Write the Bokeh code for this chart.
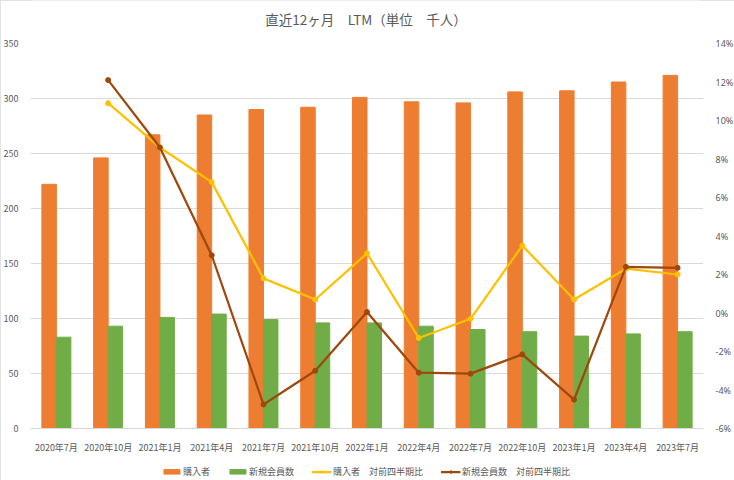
from bokeh.plotting import figure
from bokeh.layouts import column
from bokeh.models import (Range1d, LinearAxis, FixedTicker, PrintfTickFormatter,
                          Legend, LegendItem, FactorRange, Label)
from bokeh.transform import dodge
from bokeh.embed import file_html
from bokeh.resources import INLINE

categories = ["2020年7月", "2020年10月", "2021年1月", "2021年4月", "2021年7月", "2021年10月",
              "2022年1月", "2022年4月", "2022年7月", "2022年10月", "2023年1月", "2023年4月", "2023年7月"]
buyers = [222, 246, 267, 285, 290, 292, 301, 297, 296, 306, 307, 315, 321]
new_members = [83, 93, 101, 104, 99, 96, 96, 93, 90, 88, 84, 86, 88]
# quarter-on-quarter change in %, first quarter has no value
line_cats = categories[1:]
buyers_qoq = [10.9, 8.6, 6.8, 1.8, 0.7, 3.1, -1.3, -0.3, 3.5, 0.7, 2.3, 2.0]
members_qoq = [12.1, 8.6, 3.0, -4.75, -3.0, 0.05, -3.1, -3.15, -2.15, -4.5, 2.4, 2.35]

left_ticks = [0, 50, 100, 150, 200, 250, 300, 350]
right_ticks = [-6, -4, -2, 0, 2, 4, 6, 8, 10, 12, 14]
title_text = "直近12ヶ月　LTM（単位　千人）"
legend_labels = ["購入者", "新規会員数", "購入者　対前四半期比", "新規会員数　対前四半期比"]

FONT = "Noto Sans CJK JP"
GRAY = "#595959"
ORANGE = "#ED7D31"
GREEN = "#70AD47"
YELLOW = "#FFC000"
BROWN = "#9E480E"
W = 734
TH = 35


def bare(height, x_range, y_range):
    f = figure(width=W, height=height, x_range=x_range, y_range=y_range,
               output_backend="svg", toolbar_location=None,
               x_axis_location=None, y_axis_location=None,
               min_border_left=0, min_border_right=0, min_border_top=0, min_border_bottom=0)
    f.grid.grid_line_color = None
    f.outline_line_color = None
    return f


# ---- title strip ----
tf = bare(TH, Range1d(0, W), Range1d(0, TH))
tf.add_layout(Label(x=W / 2, y=TH - 18, text=title_text,
                    text_font=FONT, text_font_size="13.5px", text_color=GRAY,
                    text_align="center", text_baseline="middle"))

# ---- main chart ----
p = figure(frame_width=673, frame_height=385, x_range=FactorRange(*categories), y_range=Range1d(0, 350),
           output_backend="svg", toolbar_location=None,
           min_border_left=28, min_border_right=33, min_border_top=8, min_border_bottom=22)
p.extra_y_ranges = {"pct": Range1d(-6, 14)}

p.vbar(x=dodge("x", -0.14, range=p.x_range), top="y", width=0.28, color=ORANGE,
       source=dict(x=categories, y=buyers))
p.vbar(x=dodge("x", 0.14, range=p.x_range), top="y", width=0.28, color=GREEN,
       source=dict(x=categories, y=new_members))

p.line(line_cats, buyers_qoq, y_range_name="pct", color=YELLOW, line_width=2.25)
p.scatter(line_cats, buyers_qoq, y_range_name="pct", color=YELLOW, size=5)
p.line(line_cats, members_qoq, y_range_name="pct", color=BROWN, line_width=2.25)
p.scatter(line_cats, members_qoq, y_range_name="pct", color=BROWN, size=5)

p.yaxis.ticker = FixedTicker(ticks=left_ticks)
for ax in [p.xaxis[0], p.yaxis[0]]:
    ax.major_label_text_font = FONT
    ax.major_label_text_font_size = "9px"
    ax.major_label_text_color = GRAY
    ax.major_tick_line_color = None
    ax.minor_tick_line_color = None
p.yaxis.axis_line_color = None
p.yaxis.major_label_standoff = 6
p.xaxis.axis_line_color = "#d9d9d9"
p.xaxis.major_label_standoff = 6

ra = LinearAxis(y_range_name="pct", ticker=FixedTicker(ticks=right_ticks),
                formatter=PrintfTickFormatter(format="%d%%"))
ra.major_label_text_font = "Noto Sans"
ra.major_label_text_font_size = "9px"
ra.major_label_text_color = GRAY
ra.major_tick_line_color = None
ra.minor_tick_line_color = None
ra.axis_line_color = None
ra.major_label_standoff = 6
p.add_layout(ra, "right")

p.xgrid.grid_line_color = None
p.ygrid.grid_line_color = "#d9d9d9"
p.ygrid.ticker = FixedTicker(ticks=left_ticks)
p.outline_line_color = None

# ---- legend strip (same series, drawn outside the view so only the legend shows) ----
lg = bare(30, FactorRange(*categories), Range1d(1000, 1001))
r1 = lg.vbar(x="x", top="y", width=0.28, color=ORANGE, source=dict(x=categories, y=buyers))
r2 = lg.vbar(x="x", top="y", width=0.28, color=GREEN, source=dict(x=categories, y=new_members))
r3 = lg.line(line_cats, buyers_qoq, color=YELLOW, line_width=2.25)
r3m = lg.scatter(line_cats, buyers_qoq, color=YELLOW, size=5)
r4 = lg.line(line_cats, members_qoq, color=BROWN, line_width=2.25)
r4m = lg.scatter(line_cats, members_qoq, color=BROWN, size=5)

legend = Legend(items=[
    LegendItem(label=legend_labels[0], renderers=[r1]),
    LegendItem(label=legend_labels[1], renderers=[r2]),
    LegendItem(label=legend_labels[2], renderers=[r3, r3m]),
    LegendItem(label=legend_labels[3], renderers=[r4, r4m]),
], orientation="horizontal", location="center", label_text_font=FONT,
    label_text_font_size="9px", label_text_color=GRAY, border_line_color=None,
    background_fill_alpha=0, glyph_width=20, glyph_height=6, spacing=17,
    padding=0, margin=0, label_standoff=2)
lg.add_layout(legend, "center")

layout = column(tf, p, lg, spacing=0)
layout.styles = {"outline": "1px solid #d9d9d9", "outline-offset": "-1px"}

open("out.html", "w").write(file_html(layout, INLINE))
